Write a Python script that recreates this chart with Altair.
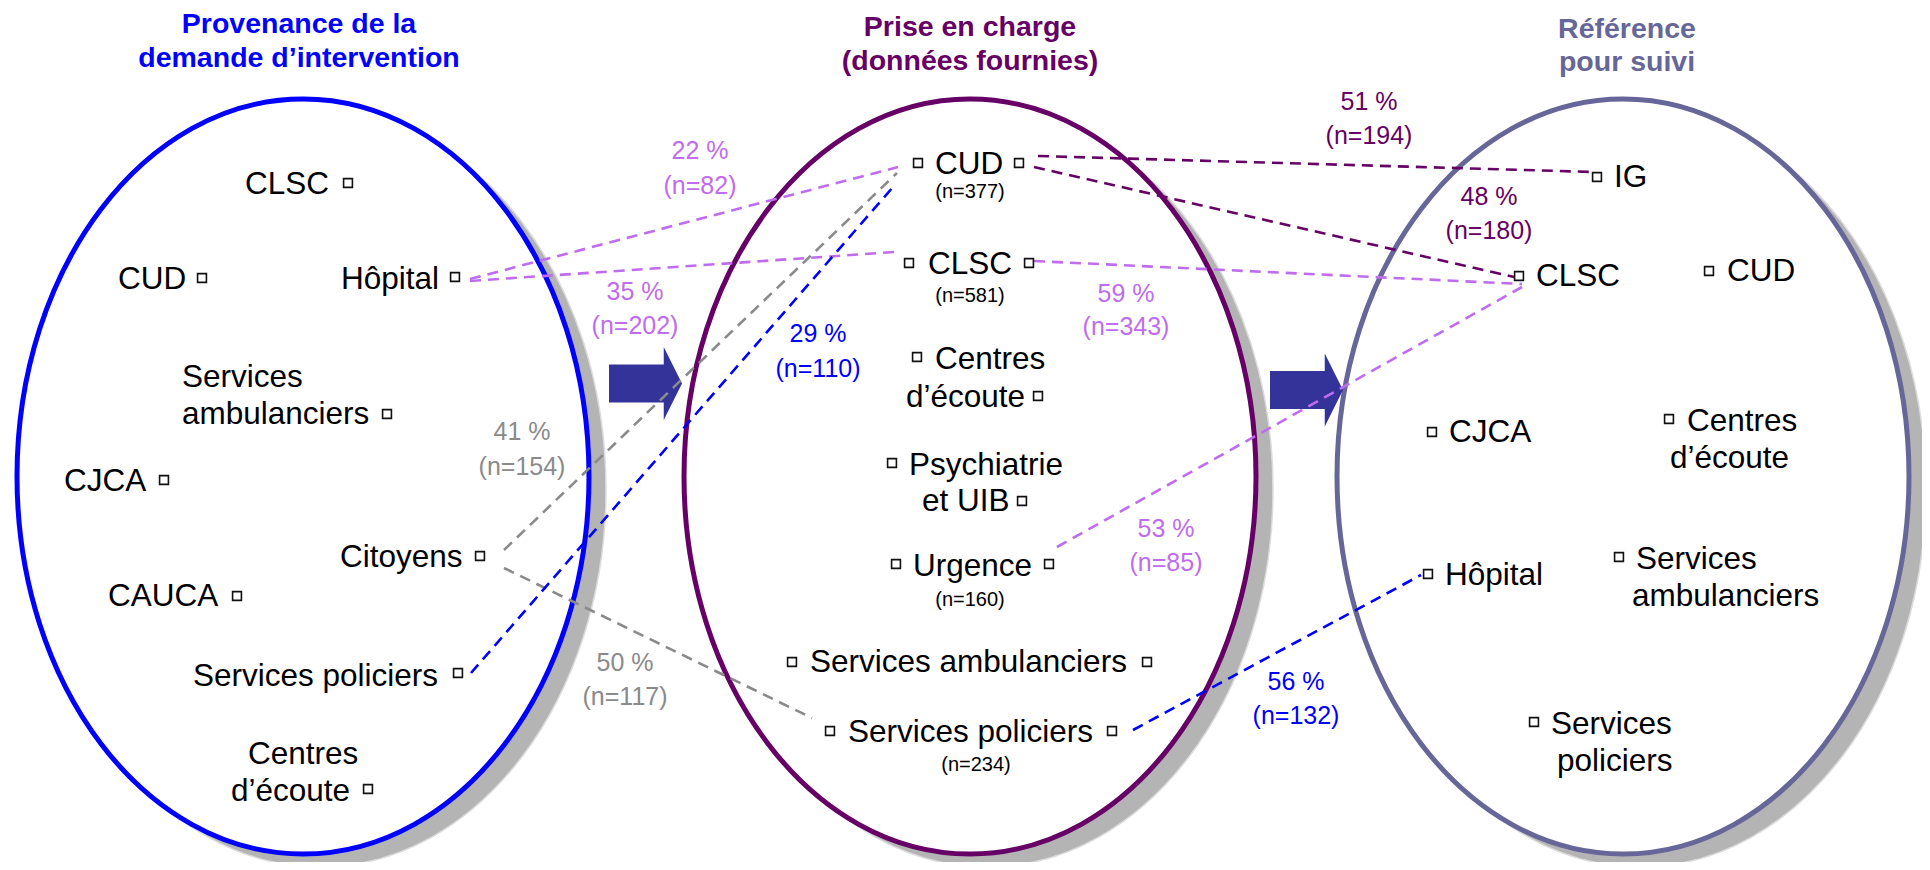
import altair as alt
import pandas as pd

# ---------------- data ----------------
BLUE, PURPLE, SLATE = "#0000FF", "#660066", "#666699"
LILAC, GRAY, ARROW = "#C06CEE", "#8A8A8A", "#333399"

# three groups (ellipses)
group_name = ["Provenance", "Prise en charge", "Référence"]
group_cx = [303, 970, 1623]
group_cy = [476.5, 476.5, 476.5]
group_col = [BLUE, PURPLE, SLATE]

# titles (one row per line)
title_text = ["Provenance de la", "demande d’intervention", "Prise en charge",
              "(données fournies)", "Référence", "pour suivi"]
title_x = [299, 299, 970, 970, 1627, 1627]
title_y = [24, 58, 27, 61, 29, 62]
title_col = [BLUE, BLUE, PURPLE, PURPLE, SLATE, SLATE]

# category labels (one row per line, left edge)
label_text = ["CLSC", "CUD", "Hôpital", "Services", "ambulanciers", "CJCA", "Citoyens",
              "CAUCA", "Services policiers", "Centres", "d’écoute",
              "CUD", "CLSC", "Centres", "d’écoute", "Psychiatrie", "et UIB", "Urgence",
              "Services ambulanciers", "Services policiers",
              "IG", "CLSC", "CUD", "CJCA", "Centres", "d’écoute", "Hôpital",
              "Services", "ambulanciers", "Services", "policiers"]
label_x = [245, 118, 341, 182, 182, 64, 340, 108, 193, 248, 231,
           935, 928, 935, 906, 909, 922, 913, 810, 848,
           1614, 1536, 1727, 1449, 1687, 1670, 1445, 1636, 1632, 1551, 1557]
label_y = [185, 280, 280, 378, 415, 482, 558, 597, 677, 755, 792,
           165, 265, 360, 398, 466, 502, 567, 663, 733,
           178, 277, 272, 433, 422, 459, 576, 560, 597, 725, 762]

# counts under the middle-group labels
count_text = ["(n=377)", "(n=581)", "(n=160)", "(n=234)"]
count_x = [970, 970, 970, 976]
count_y = [192, 296, 600, 765]

# small square markers
marker_x = [348, 202, 455, 387, 164, 480, 237, 458, 368,
            918, 1019, 909, 1029, 917, 1038, 892, 1022, 896, 1049, 792, 1147, 830, 1112,
            1597, 1519, 1709, 1432, 1669, 1428, 1619, 1534]
marker_y = [183, 278, 277, 414, 480, 556, 596, 673, 789,
            163, 163, 263, 263, 357, 396, 463, 501, 564, 564, 662, 662, 731, 731,
            177, 276, 271, 432, 419, 574, 557, 722]

# flows (dashed links)
flow_x1 = [470, 470, 1034, 1057, 1038, 1034, 504, 504, 471, 1133]
flow_y1 = [279, 281, 261, 547, 156, 167, 550, 568, 673, 730]
flow_x2 = [898, 895, 1522, 1522, 1594, 1514, 897, 812, 893, 1421]
flow_y2 = [167, 252, 284, 287, 172, 277, 173, 718, 187, 575]
flow_col = [LILAC, LILAC, LILAC, LILAC, PURPLE, PURPLE, GRAY, GRAY, BLUE, BLUE]

# flow percentages
pct_top = ["22 %", "35 %", "29 %", "41 %", "50 %", "59 %", "53 %", "51 %", "48 %", "56 %"]
pct_n = ["(n=82)", "(n=202)", "(n=110)", "(n=154)", "(n=117)", "(n=343)", "(n=85)",
         "(n=194)", "(n=180)", "(n=132)"]
pct_x = [700, 635, 818, 522, 625, 1126, 1166, 1369, 1489, 1296]
pct_y1 = [151, 292, 334, 432, 663, 294, 529, 102, 197, 682]
pct_y2 = [186, 326, 369, 467, 697, 327, 563, 136, 231, 716]
pct_col = [LILAC, LILAC, BLUE, GRAY, GRAY, LILAC, LILAC, PURPLE, PURPLE, BLUE]

# block arrows between groups
arrow_x = [645.5, 1306.5]
arrow_y = [383.5, 390]

# ---------------- geometry helpers ----------------
RX, RY = 286, 377.5
a, k = RX / RY, 0.5523
ELLIPSE = (f"M 0 -1 C {k*a:.4f} -1 {a:.4f} {-k:.4f} {a:.4f} 0 "
           f"C {a:.4f} {k:.4f} {k*a:.4f} 1 0 1 "
           f"C {-k*a:.4f} 1 {-a:.4f} {k:.4f} {-a:.4f} 0 "
           f"C {-a:.4f} {-k:.4f} {-k*a:.4f} -1 0 -1 Z")
ELL_SIZE = (2 * RY) ** 2
ARROW_PATH = "M -1 -0.52 L 0.5 -0.52 L 0.5 -1 L 1 0 L 0.5 1 L 0.5 0.52 L -1 0.52 Z"
ARROW_SIZE = 73 ** 2

SANS = "Liberation Sans, Arial, Helvetica, sans-serif"

W, H = 1914, 854
xs = alt.Scale(domain=[8, 8 + W], nice=False, zero=False)
ys = alt.Scale(domain=[8, 8 + H], nice=False, zero=False, reverse=True)
X = lambda f: alt.X(f"{f}:Q", scale=xs, axis=None)
Y = lambda f: alt.Y(f"{f}:Q", scale=ys, axis=None)

groups = pd.DataFrame({"g": group_name, "x": group_cx, "y": group_cy, "c": group_col})
titles = pd.DataFrame({"t": title_text, "x": title_x, "y": title_y, "c": title_col})
labels = pd.DataFrame({"t": label_text, "x": label_x, "y": label_y})
counts = pd.DataFrame({"t": count_text, "x": count_x, "y": count_y})
markers = pd.DataFrame({"x": marker_x, "y": marker_y})
flows = pd.DataFrame({"x": flow_x1, "y": flow_y1, "x2": flow_x2, "y2": flow_y2, "c": flow_col})
pcts = pd.DataFrame({"t": pct_top + pct_n, "x": pct_x + pct_x, "y": pct_y1 + pct_y2,
                     "c": pct_col + pct_col})
arrows = pd.DataFrame({"x": arrow_x, "y": arrow_y})

shadow = alt.Chart(groups).mark_point(
    shape=ELLIPSE, size=ELL_SIZE, filled=True, fill="#b4b4b4", fillOpacity=1,
    stroke="#dcdcdc", strokeWidth=1.5, opacity=1, xOffset=17, yOffset=13
).encode(x=X("x"), y=Y("y"))

ellipse = alt.Chart(groups).mark_point(
    shape=ELLIPSE, size=ELL_SIZE, filled=True, fill="white", fillOpacity=1,
    strokeWidth=5, opacity=1, strokeOpacity=1
).encode(x=X("x"), y=Y("y"), stroke=alt.Stroke("c:N", scale=None))

arrow = alt.Chart(arrows).mark_point(
    shape=ARROW_PATH, size=ARROW_SIZE, filled=True, fill=ARROW, fillOpacity=1,
    strokeWidth=0, opacity=1
).encode(x=X("x"), y=Y("y"))

links = alt.Chart(flows).mark_rule(strokeDash=[11, 7], strokeWidth=2.6).encode(
    x=X("x"), y=Y("y"), x2="x2:Q", y2="y2:Q", color=alt.Color("c:N", scale=None))

squares = alt.Chart(markers).mark_square(
    size=78, filled=True, fill="white", stroke="#111111", strokeWidth=1.6, opacity=1
).encode(x=X("x"), y=Y("y"))

title_layer = alt.Chart(titles).mark_text(
    font=SANS, fontSize=28.5, fontWeight="bold", align="center", baseline="middle"
).encode(x=X("x"), y=Y("y"), text="t:N", color=alt.Color("c:N", scale=None))

label_layer = alt.Chart(labels).mark_text(
    font=SANS, fontSize=31.5, align="left", baseline="middle", color="black"
).encode(x=X("x"), y=Y("y"), text="t:N")

count_layer = alt.Chart(counts).mark_text(
    font=SANS, fontSize=20, align="center", baseline="middle", color="black"
).encode(x=X("x"), y=Y("y"), text="t:N")

pct_layer = alt.Chart(pcts).mark_text(
    font=SANS, fontSize=25, align="center", baseline="middle"
).encode(x=X("x"), y=Y("y"), text="t:N", color=alt.Color("c:N", scale=None))

chart = alt.layer(
    shadow, ellipse, arrow, links, squares, title_layer, label_layer, count_layer, pct_layer
).properties(
    width=W, height=H, padding=0, autosize=alt.AutoSizeParams(type="none"),
    background="white"
).configure_view(strokeWidth=0)

chart.save("out.html", embed_options={"renderer": "svg", "actions": False})
